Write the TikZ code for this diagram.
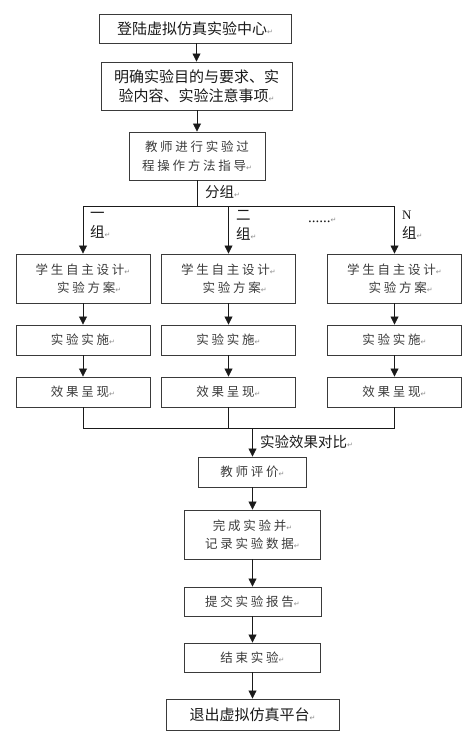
\documentclass[tikz,border=0pt]{standalone}
\usepackage{fontspec}
\usepackage{xcolor}
\usepackage{tikz}
\usetikzlibrary{positioning,arrows.meta}
\setmainfont{Liberation Serif}
\newfontfamily\cjk{Noto Sans CJK SC}
\newfontfamily\cjkwide[LetterSpace=22]{Noto Sans CJK SC}
\newfontfamily\markfont{DejaVu Sans}
\definecolor{LABink}{HTML}{1A1A1A}
\definecolor{LABline}{HTML}{3A3A3A}
\definecolor{LABmark}{HTML}{8C8C8C}
\newcommand{\pmark}{{\markfont\color{LABmark}\fontsize{7}{7}\selectfont ↵}}
\tikzset{
  stepbox/.style={draw=LABline, line width=0.9pt, fill=white, align=center, inner sep=0pt, text=LABink, font=\cjk\fontsize{15}{19}\selectfont},
  widebox/.style={stepbox, text=LABink!85, font=\cjkwide\fontsize{12.5}{18.5}\selectfont},
  flowarr/.style={-{Triangle[length=8pt,width=8pt]}, line width=0.8pt, draw=LABink},
  flowline/.style={line width=0.8pt, draw=LABink},
  steplabel/.style={inner sep=0pt, anchor=west, align=left, text=LABink, font=\cjk\fontsize{14.5}{19}\selectfont}
}

\begin{document}
\begin{tikzpicture}[x=1pt, y=-1pt]
\useasboundingbox (0,0) rectangle (474,741);
% main chain, top part
\node[stepbox, minimum width=192pt, minimum height=29pt] (login) at (195,28.5) {登陆虚拟仿真实验中心\pmark};
\node[stepbox, minimum width=191pt, minimum height=48pt] (goal) at (196.5,86) {明确实验目的与要求、实\\验内容、实验注意事项\pmark};
\node[widebox, minimum width=136pt, minimum height=48pt] (guide) at (197,156) {教师进行实验过\\程操作方法指导\pmark};
\draw[flowarr] (login.south -| goal.north) -- (goal.north);
\draw[flowarr] (goal.south -| guide.north) -- (guide.north);

% groups
\coordinate (split) at (197,206);
\coordinate (b1) at (83,206);
\coordinate (b2) at (228.5,206);
\coordinate (b3) at (394.5,206);
\draw[flowline] (guide.south) -- (split);
\draw[flowline] (b1) -- (b3);
\node[steplabel] (grouping) at (205,192) {分组\pmark};
\node[steplabel] (g1) at (90,225) {一\\组\pmark};
\node[steplabel] (g2) at (236,225) {二\\组\pmark};
\node[steplabel] (gdots) at (308,220) {\fontspec{Liberation Serif}\fontsize{15}{15}\selectfont ......\pmark};
\node[steplabel] (gn) at (402,225) {{\fontspec{Liberation Serif}\fontsize{13}{13}\selectfont N}\\组\pmark};

\foreach \i/\x in {1/83, 2/228.5, 3/394.5} {
  \node[widebox, minimum width=134pt, minimum height=49pt] (sd\i) at (\x,278.5) {学生自主设计\pmark\\\hspace*{1em}实验方案\pmark};
  \node[widebox, minimum width=134pt, minimum height=30pt] (ss\i) at (\x,340) {实验实施\pmark};
  \node[widebox, minimum width=134pt, minimum height=30pt] (fx\i) at (\x,392) {效果呈现\pmark};
  \draw[flowarr] (b\i) -- (sd\i.north);
  \draw[flowarr] (sd\i.south) -- (ss\i.north);
  \draw[flowarr] (ss\i.south) -- (fx\i.north);
}

% merge
\coordinate (m1) at (83,428);
\coordinate (m3) at (394.5,428);
\coordinate (join) at (252.5,428);
\draw[flowline] (fx1.south) -- (m1) -- (m3) -- (fx3.south);
\draw[flowline] (fx2.south) -- (fx2.south |- m1);
\node[steplabel] (compare) at (260,442) {实验效果对比\pmark};

% main chain, bottom part
\node[widebox, minimum width=108pt, minimum height=30pt] (eval) at (252.5,472) {教师评价\pmark};
\node[widebox, minimum width=136pt, minimum height=49pt] (record) at (252.5,534.5) {完成实验并\pmark\\记录实验数据\pmark};
\node[widebox, minimum width=137pt, minimum height=29pt] (report) at (252.5,601.5) {提交实验报告\pmark};
\node[widebox, minimum width=136pt, minimum height=29pt] (finish) at (252.5,657.5) {结束实验\pmark};
\node[stepbox, minimum width=173pt, minimum height=31pt] (quit) at (252.5,714.5) {退出虚拟仿真平台\pmark};
\draw[flowarr] (join) -- (eval.north);
\draw[flowarr] (eval.south) -- (record.north);
\draw[flowarr] (record.south) -- (report.north);
\draw[flowarr] (report.south) -- (finish.north);
\draw[flowarr] (finish.south) -- (quit.north);
\end{tikzpicture}
\end{document}
